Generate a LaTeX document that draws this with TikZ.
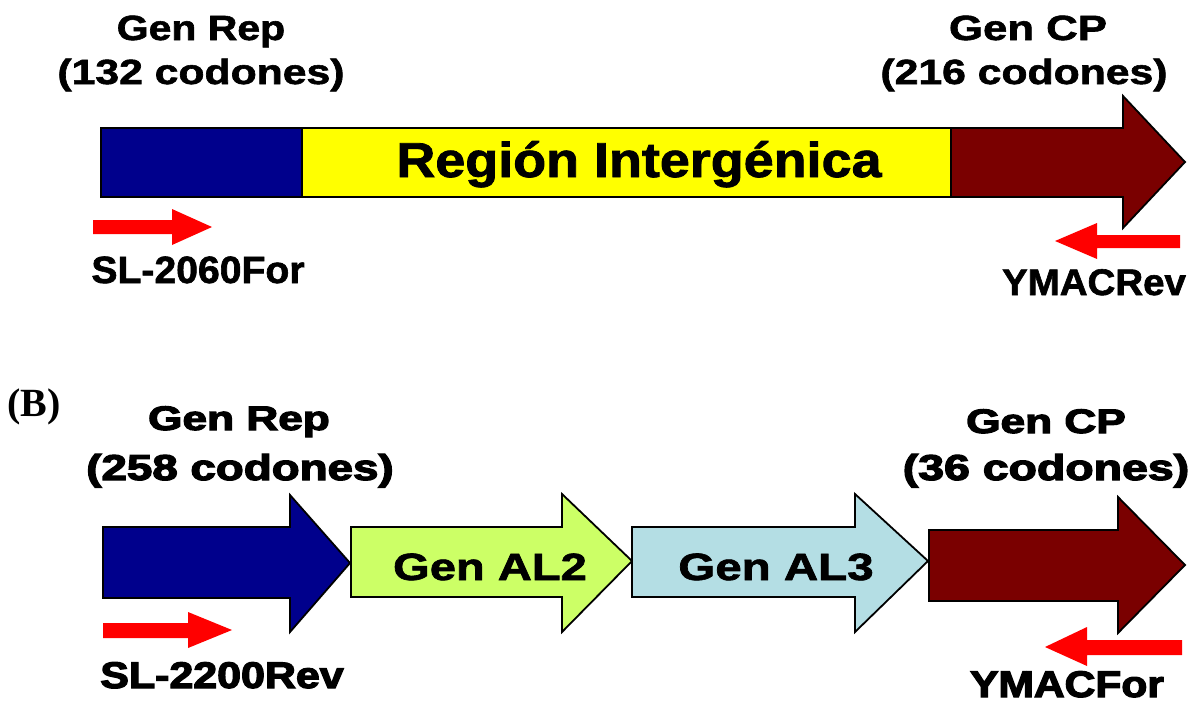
\documentclass[tikz,border=0pt]{standalone}
\usepackage{fontspec}
\setmainfont{Liberation Sans}
\newfontfamily\heavyA{Liberation Sans Bold}[FakeBold=1.6]
\newfontfamily\heavyB{Liberation Sans Bold}[FakeBold=3.2]
\newfontfamily\serifbold{Liberation Serif Bold}
\usepackage{graphicx}
\definecolor{repblue}{RGB}{0,0,140}
\definecolor{igyellow}{RGB}{255,255,0}
\definecolor{cpmaroon}{RGB}{122,0,0}
\definecolor{algreen}{RGB}{204,255,102}
\definecolor{allblue}{RGB}{180,222,228}
\definecolor{primerred}{RGB}{255,0,0}
\newcommand{\lbl}[3]{\scalebox{#2}[1]{\fontsize{#1}{#1}\selectfont\heavyA #3}}
\newcommand{\lblb}[3]{\scalebox{#2}[1]{\fontsize{#1}{#1}\selectfont\heavyB #3}}
\begin{document}
\begin{tikzpicture}[x=1pt,y=-1pt,
  gene/.style={draw=black, line width=1.8pt, line join=miter},
  primer/.style={fill=primerred},
  lab/.style={anchor=base, inner sep=0pt, text=black}]
\useasboundingbox (0,0) rectangle (1198,704);

% ---------- Panel A ----------
\path[gene, fill=repblue] (101,128) rectangle (302,197);
\path[gene, fill=igyellow] (302,128) rectangle (951,197);
\path[gene, fill=cpmaroon] (951,128) -- (1123,128) -- (1123,96) -- (1185,162) -- (1123,228) -- (1123,197) -- (951,197) -- cycle;
\path[primer] (93,220) -- (172,220) -- (172,209) -- (212,227) -- (172,245) -- (172,234) -- (93,234) -- cycle;
\path[primer] (1180,235) -- (1097,235) -- (1097,223) -- (1055,241) -- (1097,259) -- (1097,248) -- (1180,248) -- cycle;

\node[lab] (repA) at (201,40) {\lbl{35}{1.17}{Gen Rep}};
\node[lab] (repAc) at (201,84) {\lbl{35}{1.22}{(132 codones)}};
\node[lab] (cpA) at (1028,40) {\lbl{35}{1.25}{Gen CP}};
\node[lab] (cpAc) at (1024,84) {\lbl{35}{1.22}{(216 codones)}};
\node[lab] (ig) at (639,177) {\lbl{49}{1.1}{Región Intergénica}};
\node[lab] (fwdA) at (198,283) {\lbl{38}{1.03}{SL-2060For}};
\node[lab] (revA) at (1094,295) {\lbl{37}{1.04}{YMACRev}};

% ---------- Panel B ----------
\node[lab, anchor=base west] (panelB) at (7,416) {\fontsize{40}{40}\selectfont\serifbold (B)};

\path[gene, fill=repblue] (103,527) -- (290,527) -- (290,495) -- (350,563) -- (290,632) -- (290,598) -- (103,598) -- cycle;
\path[gene, fill=algreen] (351,527) -- (562,527) -- (562,494) -- (632,561) -- (562,632) -- (562,597) -- (351,597) -- cycle;
\path[gene, fill=allblue] (632,527) -- (855,527) -- (855,494) -- (928,561) -- (855,632) -- (855,597) -- (632,597) -- cycle;
\path[gene, fill=cpmaroon] (929,530) -- (1118,530) -- (1118,497) -- (1185,565) -- (1118,633) -- (1118,601) -- (929,601) -- cycle;
\path[primer] (103,623) -- (188,623) -- (188,612) -- (232,630) -- (188,648) -- (188,638) -- (103,638) -- cycle;
\path[primer] (1182,640) -- (1087,640) -- (1087,627) -- (1045,647) -- (1087,666) -- (1087,655) -- (1182,655) -- cycle;

\node[lab] (repB) at (239,430) {\lblb{34}{1.3}{Gen Rep}};
\node[lab] (repBc) at (240,480) {\lblb{36}{1.27}{(258 codones)}};
\node[lab] (cpB) at (1046,433) {\lblb{34}{1.3}{Gen CP}};
\node[lab] (cpBc) at (1046,480) {\lblb{36}{1.29}{(36 codones)}};
\node[lab] (al2) at (490,580) {\lbl{38}{1.24}{Gen AL2}};
\node[lab] (al3) at (776,580) {\lbl{38}{1.25}{Gen AL3}};
\node[lab] (fwdB) at (222,688) {\lblb{37}{1.16}{SL-2200Rev}};
\node[lab] (revB) at (1067,697) {\lblb{37}{1.15}{YMACFor}};
\end{tikzpicture}
\end{document}
